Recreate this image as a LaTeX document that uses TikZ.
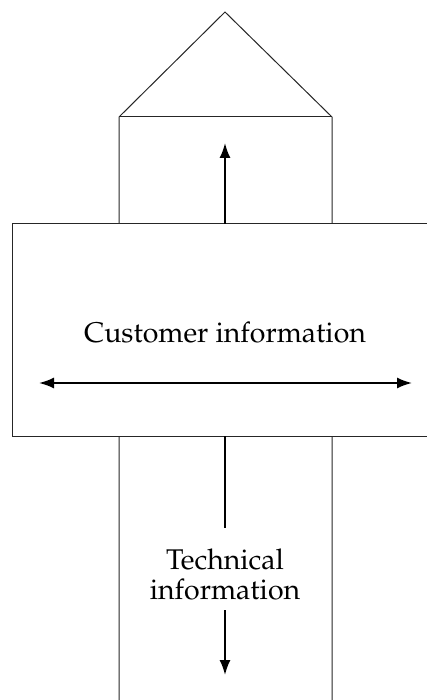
\documentclass[tikz,border=0pt]{standalone}
\usepackage[T1]{fontenc}
\usepackage{mathpazo}
\usetikzlibrary{arrows.meta}

\tikzset{
  outline/.style={draw=black!85, line width=1pt, line join=miter},
  flow/.style={draw=black, line width=1.8pt, -{Latex[length=15pt, width=11pt]}},
  plain/.style={draw=black, line width=1.8pt},
  label/.style={font=\fontsize{28.5}{30}\selectfont, align=center, inner sep=0pt}
}

\begin{document}
\begin{tikzpicture}[x=1pt, y=-1pt]
  \useasboundingbox (0,0) rectangle (427,700);

  % house outline: roof and open-ended pillar
  \coordinate (apex) at (225,12);
  \coordinate (eaveL) at (119,117);
  \coordinate (eaveR) at (332,117);
  \coordinate (footL) at (119,701);
  \coordinate (footR) at (332,701);
  \draw[outline] (footL) -- (eaveL) -- (apex) -- (eaveR) -- (footR);
  \draw[outline] (eaveL) -- (eaveR);

  % cross band over the pillar, open on the right
  \fill[white] (12,224) rectangle (430,436);
  \draw[outline] (430,224) -- (12,224) -- (12,436) -- (430,436);

  % upward flow in the upper pillar
  \coordinate (upS) at (225,224);
  \coordinate (upE) at (225,143);
  \draw[flow] (upS) -- (upE);

  % customer flow across the band
  \node[label] (cust) at (225,332) {Customer information};
  \coordinate (mid) at (225,383);
  \coordinate (westE) at (39,383);
  \coordinate (eastE) at (412,383);
  \draw[flow] (mid) -- (westE);
  \draw[flow] (mid) -- (eastE);

  % downward flow in the lower pillar
  \node[label] (tech) at (225,574) {Technical\\information};
  \coordinate (dnS) at (225,436);
  \coordinate (dnA) at (225,528);
  \coordinate (dnB) at (225,610);
  \coordinate (dnE) at (225,675);
  \draw[plain] (dnS) -- (dnA);
  \draw[flow] (dnB) -- (dnE);
\end{tikzpicture}
\end{document}
